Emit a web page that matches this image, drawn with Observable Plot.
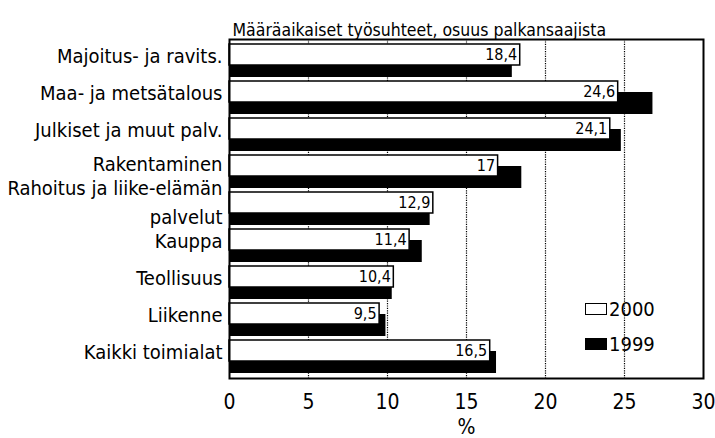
<!DOCTYPE html>
<html>
<head>
<meta charset="utf-8">
<script src="https://cdn.jsdelivr.net/npm/d3@7"></script>
<script src="https://cdn.jsdelivr.net/npm/@observablehq/plot@0.6"></script>
<style>
  body { margin: 0; background: #fff; }
  #wrap { position: relative; width: 715px; height: 438px; font-family: "Liberation Sans Narrow", "DejaVu Sans Condensed", sans-serif; }
  .lg { position: absolute; display: flex; align-items: center; font-size: 20px; color: #000; }
  .sw { width: 22px; height: 12px; margin-right: 2px; box-sizing: border-box; }
</style>
</head>
<body>
<div id="wrap"></div>
<script>
const title = "Määräaikaiset työsuhteet, osuus palkansaajista";
const categories = [
  "Majoitus- ja ravits.",
  "Maa- ja metsätalous",
  "Julkiset ja muut palv.",
  "Rakentaminen",
  "Rahoitus ja liike-elämän\npalvelut",
  "Kauppa",
  "Teollisuus",
  "Liikenne",
  "Kaikki toimialat"
];
const values2000 = [18.4, 24.6, 24.1, 17, 12.9, 11.4, 10.4, 9.5, 16.5];
const values1999 = [17.9, 26.8, 24.8, 18.5, 12.7, 12.2, 10.3, 9.9, 16.9];
const labels2000 = ["18,4", "24,6", "24,1", "17", "12,9", "11,4", "10,4", "9,5", "16,5"];
const seriesNames = ["2000", "1999"];
const xTicks = [0, 5, 10, 15, 20, 25, 30];
const gridTicks = [5, 10, 15, 20, 25];
const xLabel = "%";

const rows2000 = categories.map((c, i) => ({cat: c, v: values2000[i], label: labels2000[i]}));
const rows1999 = categories.map((c, i) => ({cat: c, v: values1999[i]}));
const multiLine = categories.filter(c => c.includes("\n"));
const raisedLine = ["Rakentaminen"];
const singleLine = categories.filter(c => !c.includes("\n") && !raisedLine.includes(c));

const font = '"Liberation Sans Narrow", "DejaVu Sans Condensed", sans-serif';
const yAxisOpts = {tickSize: 0, tickPadding: 7, fontSize: 20, label: null};

const chart = Plot.plot({
  width: 715,
  height: 438,
  marginLeft: 229,
  marginRight: 12,
  marginTop: 39,
  marginBottom: 60,
  style: {fontFamily: font, color: "#000", background: "#fff"},
  x: {domain: [0, 30], ticks: xTicks},
  y: {domain: categories, padding: 0},
  marks: [
    Plot.ruleX(gridTicks, {stroke: "#000", strokeWidth: 1.2, strokeDasharray: "1.2,1.2"}),
    Plot.barX(rows1999, {x: "v", y: "cat", fill: "#000", insetTop: 13, insetBottom: 2}),
    Plot.barX(rows2000, {x: "v", y: "cat", fill: "#fff", stroke: "#000", strokeWidth: 1.5, insetTop: 2, insetBottom: 14}),
    Plot.text(rows2000, {x: "v", y: "cat", text: "label", textAnchor: "end", dx: -3, dy: -6, fontSize: 16, fill: "#000"}),
    Plot.frame({stroke: "#000", strokeWidth: 2}),
    Plot.axisX({ticks: xTicks, tickSize: 0, tickPadding: 16, fontSize: 21, label: xLabel, labelAnchor: "center", labelArrow: "none", labelOffset: 55}),
    Plot.axisY(singleLine, {...yAxisOpts, dy: -4}),
    Plot.axisY(raisedLine, {...yAxisOpts, dy: -7}),
    Plot.axisY(multiLine, {...yAxisOpts, lineHeight: 1.45, dy: -9}),
    Plot.text([title], {frameAnchor: "top-left", lineAnchor: "bottom", dx: 3, dy: -4, fontSize: 17.5, fill: "#000"})
  ]
});
const wrap = document.getElementById("wrap");
wrap.appendChild(chart);

const legendPos = [{top: 297, fill: "#fff"}, {top: 332, fill: "#000"}];
seriesNames.forEach((name, i) => {
  const d = document.createElement("div");
  d.className = "lg";
  d.style.left = "585px";
  d.style.top = legendPos[i].top + "px";
  const sw = document.createElement("span");
  sw.className = "sw";
  sw.style.background = legendPos[i].fill;
  sw.style.border = "1.5px solid #000";
  d.appendChild(sw);
  d.appendChild(document.createTextNode(name));
  wrap.appendChild(d);
});
</script>
</body>
</html>
